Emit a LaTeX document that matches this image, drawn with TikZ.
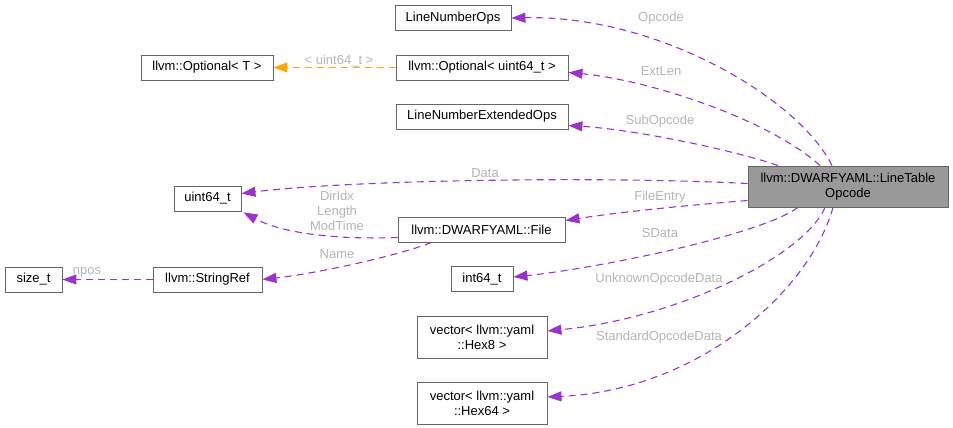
\documentclass[tikz,border=0pt]{standalone}
\usepackage{fontspec}
\setmainfont{Liberation Sans}
\usepackage{xcolor}
\usepackage{tikz}
\usetikzlibrary{arrows.meta,calc}
\definecolor{edgecol}{RGB}{154,50,205}
\definecolor{tmplcol}{RGB}{255,165,0}
\definecolor{labelcol}{RGB}{180,180,180}
\definecolor{boxline}{RGB}{102,102,102}
\definecolor{mainfill}{RGB}{153,153,153}
\tikzset{
  cbox/.style={rectangle, draw=boxline, fill=white, align=center,
               minimum height=25pt, inner sep=2pt, line width=0.9pt},
  mainbox/.style={cbox, fill=mainfill, minimum width=200pt, minimum height=41pt},
  elabel/.style={text=labelcol, inner sep=0pt, align=center},
  dep/.style={-{Triangle[length=14pt,width=10pt]}, draw=edgecol,
              line width=1.1pt, dash pattern=on 7pt off 5pt},
  tmpl/.style={dep, draw=tmplcol},
}
\begin{document}
\begin{tikzpicture}[x=1pt, y=-1pt, font=\fontsize{13}{15}\selectfont]
  \useasboundingbox (0,0) rectangle (953,428);
  % classes
  \node[mainbox] (main) at (848,186.5) {llvm::DWARFYAML::LineTable\\Opcode};
  \node[cbox, minimum width=116pt] (lnops) at (453,18) {LineNumberOps};
  \node[cbox, minimum width=172pt] (optu) at (482,67.5) {llvm::Optional< uint64\_t >};
  \node[cbox, minimum width=132pt] (optt) at (207,67.5) {llvm::Optional< T >};
  \node[cbox, minimum width=172pt] (lnext) at (482,116.5) {LineNumberExtendedOps};
  \node[cbox, minimum width=67pt] (uint) at (207.5,198.5) {uint64\_t};
  \node[cbox, minimum width=167pt] (file) at (481.5,229.5) {llvm::DWARFYAML::File};
  \node[cbox, minimum width=57pt] (size) at (33.5,279.5) {size\_t};
  \node[cbox, minimum width=109pt] (sref) at (207.5,279.5) {llvm::StringRef};
  \node[cbox, minimum width=62pt] (int) at (482,279) {int64\_t};
  \node[cbox, minimum width=130pt, minimum height=42pt] (hexa) at (482,337)
    {vector< llvm::yaml\\::Hex8 >};
  \node[cbox, minimum width=130pt, minimum height=42pt] (hexb) at (482,403)
    {vector< llvm::yaml\\::Hex64 >};
  % members
  \draw[dep] ($(main.north)+(-16,0)$) .. controls (800,100) and (660,15) .. (lnops.east);
  \draw[dep] ($(main.north)+(-28,0)$) .. controls (770,120) and (650,80) .. ($(optu.east)+(0,5)$);
  \draw[dep] ($(main.north)+(-70,0)$) .. controls (740,152) and (640,130) .. ($(lnext.east)+(0,9)$);
  \draw[dep] ($(main.west)+(0,-3)$) .. controls (600,176) and (350,180) .. ($(uint.east)+(0,-5)$);
  \draw[dep] ($(main.west)+(0,14)$) .. controls (690,205) and (620,212) .. ($(file.east)+(0,-9)$);
  \draw[dep] ($(main.south)+(-50,0)$) .. controls (760,235) and (600,268) .. ($(int.east)+(0,-2)$);
  \draw[dep] ($(main.south)+(-23,0)$) .. controls (805,255) and (680,318) .. ($(hexa.east)+(0,-6)$);
  \draw[dep] ($(main.south)+(-15,0)$) .. controls (810,290) and (700,390) .. ($(hexb.east)+(0,-6)$);
  \draw[dep] ($(file.west)+(0,8)$) .. controls (330,240) and (280,232) .. ($(uint.south east)+(2,1)$);
  \draw[dep] ($(file.south)+(-50,0)$) .. controls (400,255) and (320,273) .. (sref.east);
  \draw[dep] (sref.west) -- (size.east);
  \draw[tmpl] (optu.west) -- (optt.east);
  % labels
  \node[elabel] (lopc) at (661,18) {Opcode};
  \node[elabel] (lext) at (661,71) {ExtLen};
  \node[elabel] (lsub) at (660,121) {SubOpcode};
  \node[elabel] (ldat) at (485,173) {Data};
  \node[elabel] (lfil) at (660,197) {FileEntry};
  \node[elabel] (lsda) at (660,233) {SData};
  \node[elabel] (lunk) at (659,279) {UnknownOpcodeData};
  \node[elabel] (lstd) at (659,337) {StandardOpcodeData};
  \node[elabel] (ltmp) at (339,61) {< uint64\_t >};
  \node[elabel] (lidx) at (337,211) {DirIdx\\Length\\ModTime};
  \node[elabel] (lnam) at (337,254) {Name};
  \node[elabel] (lnpo) at (87,272) {npos};
\end{tikzpicture}
\end{document}
